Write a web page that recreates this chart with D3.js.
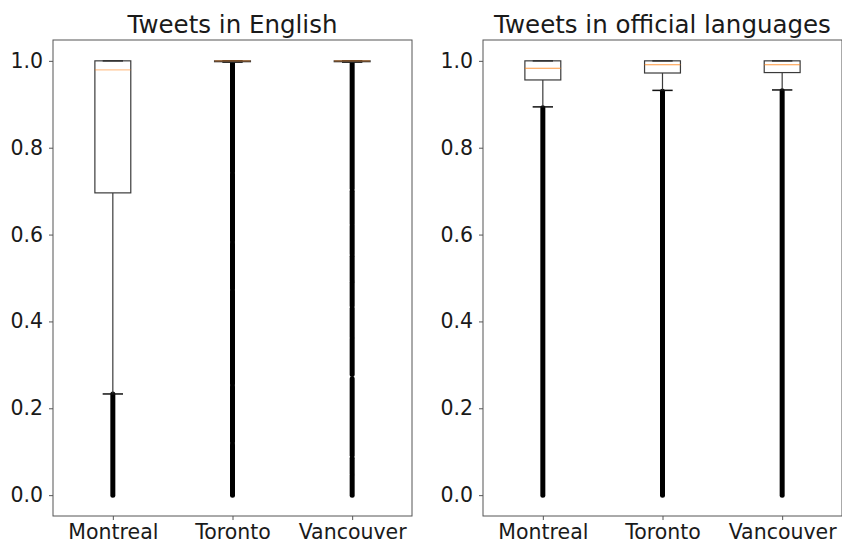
<!DOCTYPE html>
<html>
<head>
<meta charset="utf-8">
<script src="https://cdn.jsdelivr.net/npm/d3@7"></script>
<style>
  html, body { margin: 0; padding: 0; background: #fff; }
  svg { display: block; }
  text { font-family: "DejaVu Sans", sans-serif; fill: #1a1a1a; }
</style>
</head>
<body>
<svg id="chart" width="842" height="543"></svg>
<script>
// ---- Data ----
const categories = ["Montreal", "Toronto", "Vancouver"];
const yTicks = [0.0, 0.2, 0.4, 0.6, 0.8, 1.0];

// Panel 1: Tweets in English
const englishTitle = "Tweets in English";
const englishQ1 = [0.696, 0.998, 0.998];
const englishMedian = [0.979, 1.0, 1.0];
const englishQ3 = [1.0, 1.0, 1.0];
const englishWhiskerLow = [0.233, 0.997, 0.997];
const englishWhiskerHigh = [1.0, 1.0, 1.0];
// dense outlier runs, [low, high]
const englishFliers = [
  [[0.0, 0.233]],
  [[0.0, 0.117], [0.123, 0.25], [0.256, 0.47], [0.475, 0.58], [0.585, 0.74], [0.745, 0.995]],
  [[0.0, 0.045], [0.05, 0.085], [0.092, 0.268], [0.278, 0.36], [0.365, 0.43], [0.436, 0.49],
   [0.495, 0.55], [0.555, 0.62], [0.625, 0.70], [0.706, 0.995]]
];

// Panel 2: Tweets in official languages
const officialTitle = "Tweets in official languages";
const officialQ1 = [0.956, 0.972, 0.973];
const officialMedian = [0.983, 0.991, 0.991];
const officialQ3 = [1.0, 1.0, 1.0];
const officialWhiskerLow = [0.894, 0.932, 0.933];
const officialWhiskerHigh = [1.0, 1.0, 1.0];
const officialFliers = [
  [[0.0, 0.892]],
  [[0.0, 0.930]],
  [[0.0, 0.931]]
];

// ---- Drawing ----
const svg = d3.select("#chart");
const yDomain = [-0.048, 1.048];

function panel(opts) {
  const g = svg.append("g");
  const x = d3.scalePoint().domain(categories).range([opts.left, opts.right]).padding(0.5);
  const y = d3.scaleLinear().domain(yDomain).range([opts.bottom, opts.top]);
  const step = x.step();
  const boxW = step * 0.3;
  const capW = step * 0.17;

  // title
  g.append("text")
    .attr("x", (opts.left + opts.right) / 2)
    .attr("y", 33)
    .attr("text-anchor", "middle")
    .style("font-size", "24.5px")
    .text(opts.title);

  // axes
  const yAxis = d3.axisLeft(y).tickValues(yTicks).tickFormat(d3.format(".1f")).tickSize(4).tickPadding(6);
  const ya = g.append("g").attr("transform", `translate(${opts.left},0)`).call(yAxis);
  ya.select(".domain").remove();
  ya.selectAll("line").attr("stroke", "#555");
  ya.selectAll("text").style("font-size", "20.5px").style("font-family", "DejaVu Sans, sans-serif").attr("fill", "#1a1a1a");

  const xAxis = d3.axisBottom(x).tickSize(4).tickPadding(4);
  const xa = g.append("g").attr("transform", `translate(0,${opts.bottom})`).call(xAxis);
  xa.select(".domain").remove();
  xa.selectAll("line").attr("stroke", "#555");
  xa.selectAll("text").style("font-size", "20.5px").style("font-family", "DejaVu Sans, sans-serif").attr("fill", "#1a1a1a");

  // fliers (dense runs of outlier circles)
  categories.forEach((c, i) => {
    opts.fliers[i].forEach(seg => {
      g.append("line")
        .attr("x1", x(c)).attr("x2", x(c))
        .attr("y1", y(seg[0])).attr("y2", y(seg[1]))
        .attr("stroke", "#000").attr("stroke-width", 5)
        .attr("stroke-linecap", "round");
    });
  });

  // boxes
  categories.forEach((c, i) => {
    const cx = x(c);
    const bc = "#3a3a3a";
    g.append("line").attr("x1", cx).attr("x2", cx)
      .attr("y1", y(opts.q1[i])).attr("y2", y(opts.wl[i]))
      .attr("stroke", bc).attr("stroke-width", 1.2);
    g.append("line").attr("x1", cx).attr("x2", cx)
      .attr("y1", y(opts.q3[i])).attr("y2", y(opts.wh[i]))
      .attr("stroke", bc).attr("stroke-width", 1.2);
    [opts.wl[i], opts.wh[i]].forEach(v => {
      g.append("line").attr("x1", cx - capW / 2).attr("x2", cx + capW / 2)
        .attr("y1", y(v)).attr("y2", y(v))
        .attr("stroke", "#111").attr("stroke-width", 1.5);
    });
    g.append("rect")
      .attr("x", cx - boxW / 2).attr("width", boxW)
      .attr("y", y(opts.q3[i])).attr("height", Math.max(0.5, y(opts.q1[i]) - y(opts.q3[i])))
      .attr("fill", "none").attr("stroke", bc).attr("stroke-width", 1.2);
    g.append("line").attr("x1", cx - boxW / 2).attr("x2", cx + boxW / 2)
      .attr("y1", y(opts.med[i])).attr("y2", y(opts.med[i]))
      .attr("stroke", "#ff7f0e").attr("stroke-opacity", opts.medOpacity).attr("stroke-width", 1.2);
  });

  // frame
  g.append("rect")
    .attr("x", opts.left).attr("y", opts.top)
    .attr("width", opts.right - opts.left).attr("height", opts.bottom - opts.top)
    .attr("fill", "none").attr("stroke", "#555").attr("stroke-width", 1);
}

panel({
  left: 53, right: 412, top: 40, bottom: 516,
  title: englishTitle,
  q1: englishQ1, med: englishMedian, q3: englishQ3,
  wl: englishWhiskerLow, wh: englishWhiskerHigh, fliers: englishFliers,
  medOpacity: 0.45
});

panel({
  left: 483, right: 842, top: 40, bottom: 516,
  title: officialTitle,
  q1: officialQ1, med: officialMedian, q3: officialQ3,
  wl: officialWhiskerLow, wh: officialWhiskerHigh, fliers: officialFliers,
  medOpacity: 0.8
});
</script>
</body>
</html>
